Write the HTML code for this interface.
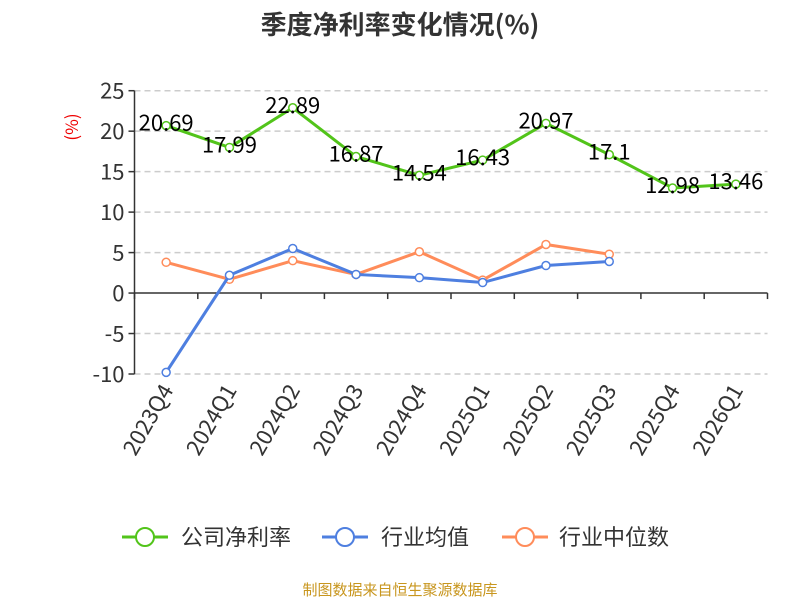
<!DOCTYPE html>
<html><head><meta charset="utf-8"><style>
body{margin:0;background:#fff;}
svg text{font-family:"Noto Sans CJK SC","Liberation Sans",sans-serif;}
</style></head><body>
<svg id="c" width="800" height="600" xmlns="http://www.w3.org/2000/svg">
<text x="400" y="34" text-anchor="middle" font-size="26" font-weight="bold" fill="#333">季度净利率变化情况(%)</text>
<text transform="translate(78,127) rotate(-90)" text-anchor="middle" font-size="17" fill="#e00">(%)</text>
<g id="grid"></g><g id="axes"></g><g id="series"></g>
<g>
<g><line x1="122" y1="537" x2="168" y2="537" stroke="#52c41a" stroke-width="3"/><circle cx="145" cy="537" r="9" fill="#fff" stroke="#52c41a" stroke-width="2"/><text x="181" y="545" font-size="22" fill="#333">公司净利率</text></g>
<g><line x1="322" y1="537" x2="368" y2="537" stroke="#4e7fe0" stroke-width="3"/><circle cx="345" cy="537" r="9" fill="#fff" stroke="#4e7fe0" stroke-width="2"/><text x="381" y="545" font-size="22" fill="#333">行业均值</text></g>
<g><line x1="502" y1="537" x2="548" y2="537" stroke="#ff8c5a" stroke-width="3"/><circle cx="525" cy="537" r="9" fill="#fff" stroke="#ff8c5a" stroke-width="2"/><text x="559" y="545" font-size="22" fill="#333">行业中位数</text></g>
</g>
<text x="400" y="595" text-anchor="middle" font-size="15" fill="#c8961e">制图数据来自恒生聚源数据库</text>
</svg>
<script>
const categories=["2023Q4","2024Q1","2024Q2","2024Q3","2024Q4","2025Q1","2025Q2","2025Q3","2025Q4","2026Q1"];
const companyValues=[20.69,17.99,22.89,16.87,14.54,16.43,20.97,17.1,12.98,13.46];
const industryAvg=[-9.8,2.2,5.5,2.3,1.9,1.3,3.4,3.9];
const industryMedian=[3.8,1.7,4.0,2.3,5.1,1.6,6.0,4.8];
const yTicks=[25,20,15,10,5,0,-5,-10];
const NS="http://www.w3.org/2000/svg";
const x0=134.5,x1=767.5,yTop=90.7,yBot=374,vMax=25,vMin=-10;
const bw=(x1-x0)/categories.length;
function xs(i){return x0+bw*(i+0.5);}
function ys(v){return yTop+(vMax-v)/(vMax-vMin)*(yBot-yTop);}
function mk(tag,attrs,parent){const e=document.createElementNS(NS,tag);for(const k in attrs)e.setAttribute(k,attrs[k]);parent.appendChild(e);return e;}
const grid=document.getElementById('grid'),axes=document.getElementById('axes'),series=document.getElementById('series');
yTicks.forEach(v=>{
 if(v!==0){const l=mk('line',{x1:x0,x2:x1,y1:ys(v),y2:ys(v),stroke:'#ccc','stroke-dasharray':'6,4','stroke-width':1.5},grid);
 
 }
 const t=mk('line',{x1:x0-6,x2:x0,y1:ys(v),y2:ys(v),stroke:'#333','stroke-width':1.5},axes);
 
 
 const tx=mk('text',{x:x0-10,y:ys(v)+8,'text-anchor':'end','font-size':22,fill:'#333'},axes);tx.textContent=v;
 
 
});
const ya=mk('line',{x1:x0,x2:x0,y1:yTop,y2:yBot,stroke:'#333','stroke-width':1.5},axes);


const xa=mk('line',{x1:x0,x2:x1,y1:ys(0),y2:ys(0),stroke:'#333','stroke-width':1.5},axes);


for(let i=0;i<=categories.length;i++){const t=mk('line',{x1:x0+bw*i,x2:x0+bw*i,y1:ys(0),y2:ys(0)+6,stroke:'#333','stroke-width':1.5},axes);
 
 }
categories.forEach((c,i)=>{const t=mk('text',{transform:`translate(${xs(i)+8},${yBot+16}) rotate(-60)`,'text-anchor':'end','font-size':22,fill:'#333'},axes);t.textContent=c;
 
 });
function drawSeries(vals,color,name,labels){
 const pts=vals.map((v,i)=>xs(i)+','+ys(v)).join(' ');
 const pl=mk('polyline',{points:pts,fill:'none',stroke:color,'stroke-width':3},series);
 
 
 vals.forEach((v,i)=>{const c=mk('circle',{cx:xs(i),cy:ys(v),r:4,fill:'#fff',stroke:color,'stroke-width':1.5},series);
  
  
  if(labels){const t=mk('text',{x:xs(i),y:ys(v)+5,'text-anchor':'middle','font-size':22,fill:'#000'},series);t.textContent=v;
  
  }
 });
}
drawSeries(industryMedian,'#ff8c5a','industry-median',false);
drawSeries(industryAvg,'#4e7fe0','industry-avg',false);
drawSeries(companyValues,'#52c41a','company',true);
</script>
</body></html>
